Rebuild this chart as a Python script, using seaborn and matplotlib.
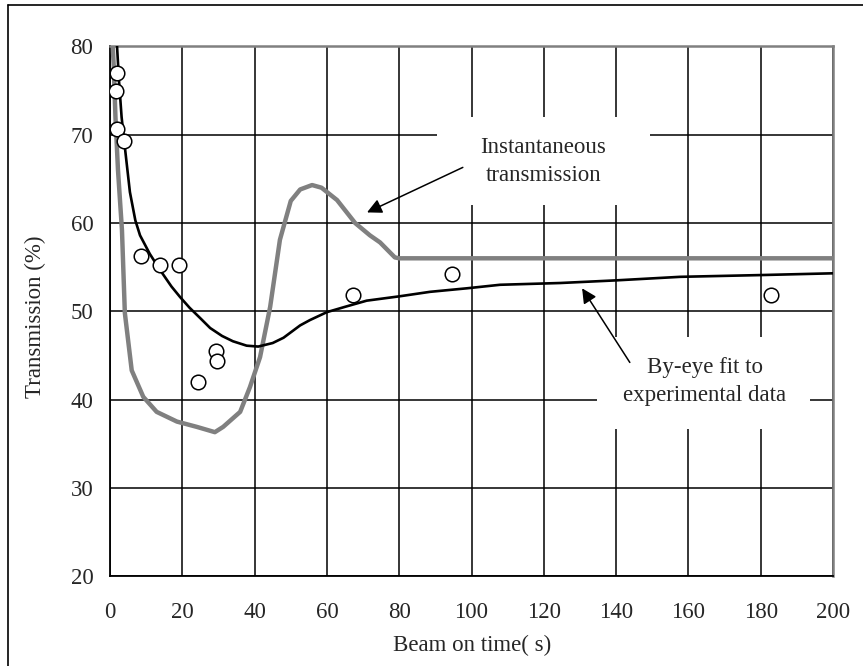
import matplotlib
matplotlib.use("Agg")
import matplotlib.pyplot as plt
from matplotlib.lines import Line2D
from matplotlib.patches import Rectangle
import seaborn as sns
import pandas as pd

# Measured transmission vs. beam-on time
meas_t = [1.9, 1.7, 2.0, 4.0, 8.6, 13.8, 19.1, 24.2, 29.2, 29.5, 67.2, 94.5, 182.8]
meas_tr = [77.0, 75.0, 70.6, 69.3, 56.3, 55.2, 55.2, 42.0, 45.5, 44.4, 51.8, 54.2, 51.8]

# By-eye fit through the measurements
fit_t = [1.8, 2.5, 3.2, 4.1, 5.5, 7.0, 8.3, 11.0, 13.8, 17.0, 19.4, 22.0, 25.0, 27.7,
         31.0, 34.0, 37.8, 41.0, 45.0, 48.0, 52.6, 55.3, 60.0, 65.0, 71.0, 80.2,
         88.5, 98.7, 107.9, 124.5, 140.0, 157.7, 180.0, 200.0]
fit_tr = [81.0, 76.0, 72.0, 68.6, 63.5, 60.3, 58.6, 56.5, 54.7, 52.8, 51.6, 50.4, 49.2, 48.1,
          47.2, 46.6, 46.1, 46.0, 46.4, 47.0, 48.4, 49.0, 49.9, 50.5, 51.2, 51.7,
          52.2, 52.6, 53.0, 53.2, 53.5, 53.9, 54.1, 54.3]

# Instantaneous transmission
inst_t = [0.5, 1.0, 1.5, 2.2, 3.3, 4.1, 6.0, 9.2, 12.9, 18.5, 24.0, 29.0, 31.3, 36.0,
          38.7, 41.5, 44.3, 47.0, 50.0, 52.6, 55.9, 58.5, 62.8, 67.8, 71.9, 74.7, 78.8,
          80.0, 120.0, 160.0, 200.0]
inst_tr = [82.0, 78.0, 72.0, 66.0, 59.2, 49.8, 43.3, 40.3, 38.6, 37.5, 36.9, 36.3, 36.9, 38.6,
           41.4, 44.8, 50.5, 58.1, 62.5, 63.8, 64.3, 64.0, 62.6, 60.0, 58.6, 57.8, 56.1,
           56.0, 56.0, 56.0, 56.0]

x_ticks = [0, 20, 40, 60, 80, 100, 120, 140, 160, 180, 200]
y_ticks = [20, 30, 40, 50, 60, 70, 80]

sns.set_style("white")
plt.rcParams["font.family"] = ["Liberation Serif", "DejaVu Serif"]
FS = 16.5

fig = plt.figure(figsize=(8.63, 6.66), dpi=100)
ax = fig.add_axes([0.1275, 0.1351, 0.8377, 0.7951])

inst_df = pd.DataFrame({"t": inst_t, "tr": inst_tr})
fit_df = pd.DataFrame({"t": fit_t, "tr": fit_tr})
meas_df = pd.DataFrame({"t": meas_t, "tr": meas_tr})

sns.lineplot(data=inst_df, x="t", y="tr", sort=False, color="#808080", lw=3.2, ax=ax, zorder=3)
sns.lineplot(data=fit_df, x="t", y="tr", sort=False, color="black", lw=1.9, ax=ax, zorder=4)
sns.scatterplot(data=meas_df, x="t", y="tr", s=110, facecolor="white", edgecolor="black",
                linewidth=1.1, ax=ax, zorder=5)

ax.set_xlim(0, 200)
ax.set_ylim(20, 80)
ax.set_xticks(x_ticks)
ax.set_yticks(y_ticks)
ax.set_xticklabels([str(v) for v in x_ticks], fontsize=FS)
ax.set_yticklabels([str(v) for v in y_ticks], fontsize=FS)
ax.tick_params(axis="both", length=0)
ax.tick_params(axis="x", pad=19)
ax.tick_params(axis="y", pad=12)

ax.set_axisbelow(True)
ax.grid(True, color="black", lw=1.1)

for side in ("left", "bottom"):
    ax.spines[side].set_color("black")
    ax.spines[side].set_linewidth(1.3)
for side in ("top", "right"):
    ax.spines[side].set_color("#808080")
    ax.spines[side].set_linewidth(1.8)

ax.set_xlabel("Beam on time( s)", fontsize=FS)
ax.set_ylabel("Transmission (%)", fontsize=FS)
ax.xaxis.set_label_coords(0.5007, -0.111)
ax.yaxis.set_label_coords(-0.088, 0.49)

# White label panels that interrupt the grid
ax.add_patch(Rectangle((90.5, 62.0), 58.9, 10.0, facecolor="white", edgecolor="none", zorder=1))
ax.add_patch(Rectangle((134.7, 36.7), 58.9, 10.4, facecolor="white", edgecolor="none", zorder=1))

ax.text(119.8, 67.0, "Instantaneous\ntransmission", ha="center", va="center",
        fontsize=FS, linespacing=1.45, zorder=6)
ax.text(164.6, 42.0, "By-eye fit to\nexperimental data", ha="center", va="center",
        fontsize=FS, linespacing=1.45, zorder=6)

arrow = dict(arrowstyle="-|>", mutation_scale=22, lw=1.1, color="black", shrinkA=0, shrinkB=0)
ax.annotate("", xy=(71.1, 61.2), xytext=(97.6, 66.3), arrowprops=arrow, zorder=6)
ax.annotate("", xy=(130.6, 52.6), xytext=(143.8, 44.2), arrowprops=arrow, zorder=6)

# Outer frame edges
fig.add_artist(Line2D([0.0093, 0.0093], [0.0, 0.9925], color="black", lw=1.2,
                      transform=fig.transFigure))
fig.add_artist(Line2D([0.0093, 1.0], [0.9925, 0.9925], color="black", lw=1.2,
                      transform=fig.transFigure))

fig.savefig("out.png", dpi=100)
